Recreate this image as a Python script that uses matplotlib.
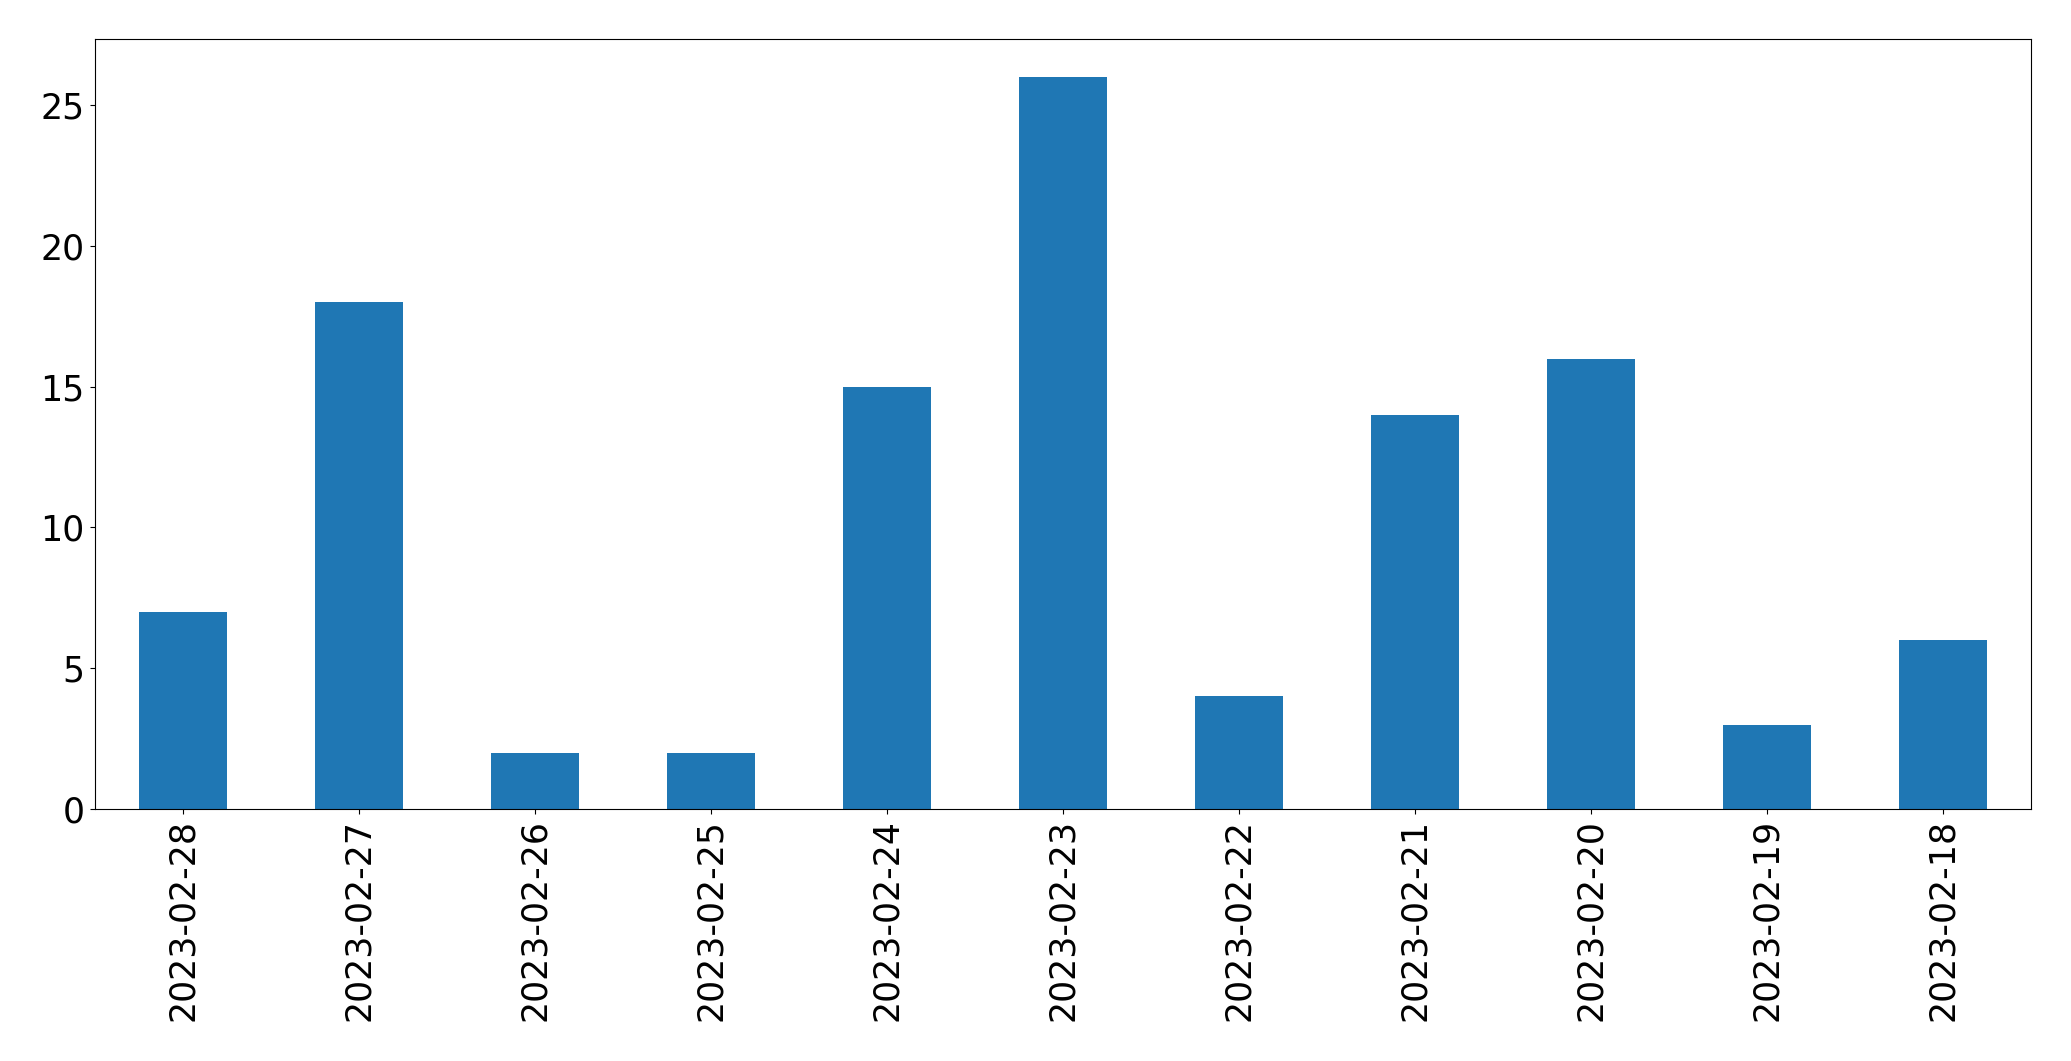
import matplotlib
matplotlib.use("Agg")
import matplotlib.pyplot as plt

dates = ["2023-02-28", "2023-02-27", "2023-02-26", "2023-02-25", "2023-02-24",
         "2023-02-23", "2023-02-22", "2023-02-21", "2023-02-20", "2023-02-19",
         "2023-02-18"]
counts = [7, 18, 2, 2, 15, 26, 4, 14, 16, 3, 6]

fig, ax = plt.subplots(figsize=(20.71, 10.61), dpi=100)
fig.subplots_adjust(left=94.5 / 2071, right=2031 / 2071,
                    top=1 - 39 / 1061, bottom=1 - 809 / 1061)

x = range(len(dates))
ax.bar(x, counts, width=0.5, color="#1f77b4")
ax.set_xlim(-0.5, len(dates) - 0.5)
ax.set_ylim(0, max(counts) * 1.052)
ax.set_xticks(list(x))
ax.set_xticklabels(dates, rotation=90)
ax.tick_params(labelsize=25)

fig.savefig("out.png", dpi=100)
